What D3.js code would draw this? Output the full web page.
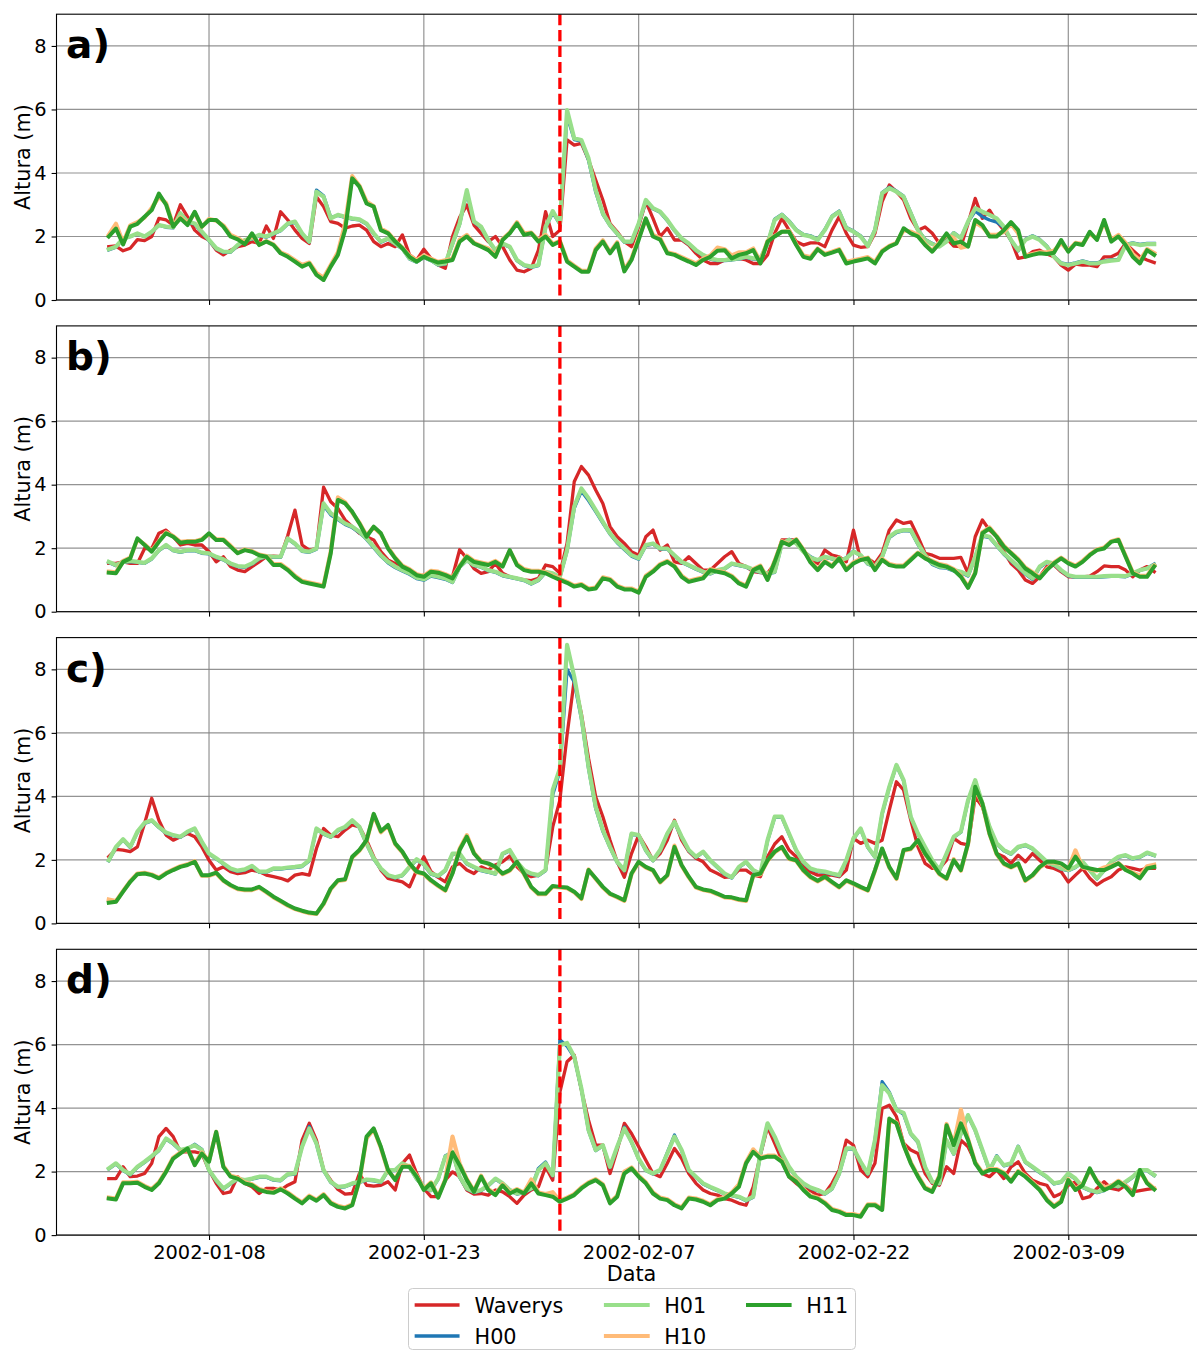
<!DOCTYPE html>
<html><head><meta charset="utf-8">
<script src="https://cdn.jsdelivr.net/npm/d3@7"></script>
<style>body{margin:0;background:#fff}svg{display:block}</style>
</head><body>
<svg id="chart" width="1197" height="1351"></svg>
<script>
// ---------------- data ----------------
const seriesNames = ["Waverys","H00","H01","H10","H11"];
const seriesColors = ["#d62728","#1f77b4","#98df8a","#ffbb78","#2ca02c"];
const seriesWidths = [3.3,3.3,4.2,4.2,4.0];
const panelLabels = ["a)","b)","c)","d)"];
const tickDates = ["2002-01-08","2002-01-23","2002-02-07","2002-02-22","2002-03-09"];
const yTicks = [0,2,4,6,8];
const startDate = "2002-01-01T00:00Z";   // 12-hourly samples
const endDate = "2002-03-15T00:00Z";
const eventDate = "2002-02-01T12:00Z";

const a_Waverys = [1.68,1.70,1.55,1.63,1.90,1.87,2.00,2.57,2.52,2.36,
3.00,2.62,2.20,2.00,1.89,1.57,1.42,1.57,1.68,1.73,
1.84,1.78,2.33,1.94,2.78,2.52,2.20,1.94,1.78,3.25,
2.94,2.47,2.41,2.26,2.33,2.36,2.20,1.84,1.68,1.78,
1.68,2.05,1.42,1.26,1.60,1.31,1.10,1.00,2.00,2.60,
2.99,2.36,2.10,1.84,2.00,1.68,1.26,0.94,0.89,1.00,
1.57,2.78,2.00,2.20,5.04,4.88,4.93,4.41,3.78,3.15,
2.41,2.15,1.84,1.68,2.31,3.10,2.57,2.00,2.26,1.89,
1.89,1.73,1.47,1.26,1.15,1.15,1.26,1.31,1.31,1.26,
1.15,1.15,1.42,2.10,2.57,2.20,1.84,1.73,1.80,1.80,
1.68,2.20,2.62,2.10,1.73,1.66,1.68,2.10,3.10,3.62,
3.41,3.15,2.57,2.20,2.30,2.10,1.78,1.94,1.70,1.68,
2.41,3.20,2.57,2.83,2.47,2.20,1.89,1.31,1.36,1.52,
1.57,1.45,1.36,1.10,0.94,1.13,1.10,1.10,1.05,1.36,
1.36,1.47,1.78,1.57,1.36,1.26,1.18];
const a_H00 = [1.58,1.66,1.92,2.00,2.08,2.00,2.13,2.36,2.29,2.27,
2.73,2.45,2.39,2.13,1.87,1.61,1.50,1.50,1.71,1.87,
1.92,2.03,1.98,2.08,2.18,2.39,2.45,2.08,1.82,3.46,
3.28,2.60,2.66,2.60,2.55,2.52,2.39,2.08,1.82,1.92,
1.76,1.61,1.29,1.19,1.34,1.24,1.10,1.13,1.76,2.39,
3.40,2.45,2.29,1.87,1.55,1.76,1.66,1.24,1.08,1.03,
1.08,2.28,2.75,2.39,5.80,5.05,5.00,4.40,3.40,2.70,
2.34,2.08,1.82,1.82,2.39,3.12,2.87,2.76,2.50,2.18,
1.92,1.76,1.55,1.40,1.29,1.24,1.24,1.26,1.29,1.34,
1.29,1.29,1.76,2.55,2.70,2.49,2.22,2.07,2.02,1.91,
2.22,2.64,2.80,2.28,2.17,2.02,1.72,2.22,3.38,3.55,
3.43,3.27,2.75,2.22,1.91,1.78,1.70,1.86,2.12,1.96,
2.45,2.80,2.62,2.52,2.45,2.29,1.87,1.55,1.91,2.02,
1.91,1.70,1.38,1.17,1.12,1.17,1.23,1.17,1.17,1.23,
1.26,1.28,1.75,1.80,1.75,1.78,1.78];
const a_H01 = [1.60,1.68,1.94,2.00,2.10,2.00,2.15,2.36,2.31,2.29,
2.73,2.47,2.41,2.15,1.89,1.63,1.52,1.52,1.73,1.89,
1.94,2.05,2.00,2.10,2.20,2.41,2.47,2.10,1.84,3.41,
3.25,2.57,2.68,2.62,2.57,2.54,2.41,2.10,1.84,1.94,
1.78,1.63,1.31,1.21,1.36,1.26,1.12,1.15,1.78,2.41,
3.46,2.47,2.31,1.89,1.57,1.78,1.68,1.26,1.10,1.05,
1.10,2.30,2.80,2.41,5.98,5.09,5.04,4.46,3.46,2.73,
2.36,2.10,1.84,1.84,2.41,3.15,2.89,2.78,2.52,2.20,
1.94,1.78,1.57,1.42,1.31,1.26,1.26,1.28,1.31,1.36,
1.31,1.31,1.78,2.52,2.68,2.47,2.20,2.05,2.00,1.89,
2.20,2.62,2.78,2.26,2.15,2.00,1.70,2.20,3.36,3.52,
3.41,3.25,2.73,2.20,1.89,1.76,1.68,1.84,2.10,1.94,
2.47,2.89,2.78,2.68,2.57,2.31,1.89,1.57,1.89,2.00,
1.89,1.68,1.36,1.15,1.10,1.15,1.21,1.15,1.15,1.21,
1.24,1.26,1.73,1.78,1.73,1.76,1.76];
const a_H10 = [2.05,2.40,1.80,2.35,2.45,2.60,2.90,3.25,3.05,2.35,
2.60,2.40,2.75,2.30,2.55,2.50,2.35,2.05,1.95,1.80,
2.05,1.75,1.85,1.75,1.50,1.40,1.25,1.10,1.18,0.85,
0.70,1.10,1.50,2.40,3.90,3.60,3.10,2.95,2.25,2.12,
1.86,1.65,1.40,1.25,1.40,1.30,1.20,1.25,1.30,1.90,
2.05,1.80,1.70,1.62,1.40,1.92,2.12,2.45,2.10,2.12,
1.88,2.05,1.76,1.86,1.25,1.08,0.92,0.92,1.62,1.88,
1.50,1.82,0.95,1.30,1.95,2.55,2.05,1.95,1.50,1.45,
1.35,1.25,1.15,1.30,1.40,1.65,1.60,1.40,1.50,1.50,
1.62,1.20,1.86,2.02,2.15,2.18,1.76,1.40,1.35,1.62,
1.45,1.52,1.60,1.20,1.25,1.30,1.35,1.20,1.55,1.70,
1.80,2.20,2.15,2.05,1.76,1.55,1.82,2.05,1.95,1.65,
1.70,2.45,2.30,2.05,2.05,2.15,2.40,2.10,1.40,1.45,
1.50,1.50,1.55,1.80,1.55,1.80,1.76,2.10,1.92,2.45,
1.90,2.05,1.80,1.45,1.25,1.60,1.48];
const a_H11 = [2.00,2.25,1.75,2.31,2.40,2.62,2.83,3.35,3.00,2.31,
2.57,2.36,2.78,2.31,2.52,2.52,2.31,2.00,1.91,1.76,
2.10,1.73,1.84,1.73,1.47,1.36,1.21,1.05,1.15,0.79,
0.63,1.05,1.42,2.20,3.83,3.57,3.04,2.94,2.20,2.10,
1.84,1.63,1.36,1.21,1.36,1.26,1.18,1.21,1.26,1.84,
2.00,1.78,1.68,1.57,1.36,1.89,2.10,2.41,2.05,2.10,
1.84,2.00,1.73,1.84,1.21,1.05,0.89,0.89,1.57,1.84,
1.47,1.78,0.90,1.26,1.89,2.57,2.00,1.90,1.47,1.42,
1.31,1.21,1.10,1.26,1.36,1.55,1.57,1.31,1.42,1.47,
1.57,1.15,1.84,2.00,2.15,2.15,1.73,1.36,1.30,1.60,
1.42,1.49,1.57,1.15,1.21,1.26,1.31,1.15,1.52,1.68,
1.78,2.26,2.10,2.00,1.73,1.52,1.78,2.10,1.78,1.84,
1.68,2.52,2.36,2.00,2.00,2.20,2.45,2.20,1.36,1.42,
1.47,1.45,1.49,1.89,1.52,1.78,1.73,2.15,1.89,2.52,
1.84,2.00,1.73,1.36,1.15,1.57,1.42];

const b_Waverys = [1.52,1.52,1.57,1.52,1.52,1.99,1.99,2.47,2.57,2.36,
2.10,2.15,2.10,2.10,1.89,1.57,1.73,1.42,1.31,1.26,
1.42,1.57,1.73,1.75,1.73,2.40,3.20,2.10,1.94,1.99,
3.92,3.46,3.25,2.89,2.68,2.47,2.36,2.26,1.89,1.63,
1.52,1.36,1.21,1.10,1.15,1.26,1.15,1.10,1.10,1.95,
1.68,1.36,1.21,1.26,1.52,1.21,1.10,1.05,1.00,0.98,
1.05,1.47,1.42,1.21,2.15,4.09,4.57,4.30,3.83,3.41,
2.68,2.36,2.15,1.89,1.78,2.36,2.57,1.94,2.10,1.57,
1.52,1.73,1.52,1.31,1.31,1.52,1.73,1.89,1.52,1.42,
1.26,1.23,1.21,1.52,2.26,2.26,2.26,1.94,1.65,1.52,
1.94,1.78,1.73,1.57,2.57,1.63,1.68,1.52,1.84,2.57,
2.89,2.78,2.83,2.36,1.84,1.78,1.68,1.68,1.68,1.71,
1.21,2.36,2.89,2.57,2.36,1.89,1.52,1.31,1.00,0.89,
1.10,1.42,1.47,1.26,1.10,1.10,1.10,1.12,1.26,1.44,
1.42,1.42,1.31,1.10,1.31,1.42,1.26];
const b_H00 = [1.55,1.45,1.55,1.58,1.55,1.52,1.66,1.92,2.08,1.92,
1.87,1.92,1.92,1.84,1.82,1.71,1.63,1.50,1.42,1.40,
1.50,1.66,1.73,1.71,1.71,2.29,2.13,1.90,1.87,1.97,
3.35,3.05,2.90,2.75,2.65,2.49,2.28,2.02,1.75,1.54,
1.39,1.28,1.18,1.04,0.99,1.12,1.07,1.02,0.92,1.40,
1.61,1.45,1.40,1.29,1.24,1.13,1.08,1.03,0.98,0.87,
0.98,1.24,1.19,1.08,1.92,3.25,3.80,3.50,3.15,2.79,
2.44,2.17,1.96,1.75,1.65,2.08,2.13,1.97,1.97,1.76,
1.55,1.45,1.34,1.24,1.19,1.29,1.34,1.50,1.45,1.40,
1.31,1.24,1.19,1.24,2.13,2.28,2.17,1.91,1.73,1.61,
1.71,1.66,1.58,1.70,1.91,1.76,1.50,1.40,1.71,2.33,
2.49,2.55,2.54,2.12,1.75,1.49,1.39,1.37,1.28,1.23,
1.12,1.70,2.38,2.33,2.07,1.81,1.60,1.39,1.18,1.02,
1.39,1.55,1.50,1.29,1.13,1.08,1.08,1.08,1.08,1.10,
1.11,1.11,1.10,1.19,1.30,1.36,1.50];
const b_H01 = [1.57,1.47,1.57,1.60,1.57,1.54,1.68,1.94,2.10,1.94,
1.89,1.94,1.94,1.86,1.84,1.73,1.65,1.52,1.44,1.42,
1.52,1.68,1.75,1.73,1.73,2.31,2.15,1.92,1.89,1.99,
3.41,3.10,2.94,2.78,2.68,2.52,2.31,2.05,1.78,1.57,
1.42,1.31,1.21,1.07,1.02,1.15,1.10,1.05,0.94,1.42,
1.63,1.47,1.42,1.31,1.26,1.15,1.10,1.05,1.00,0.89,
1.00,1.26,1.21,1.10,1.94,3.31,3.88,3.57,3.20,2.83,
2.47,2.20,1.99,1.78,1.68,2.10,2.15,1.99,1.99,1.78,
1.57,1.47,1.36,1.26,1.21,1.31,1.36,1.52,1.47,1.42,
1.33,1.26,1.21,1.26,2.15,2.26,2.15,1.89,1.70,1.63,
1.73,1.68,1.60,1.68,1.89,1.78,1.52,1.42,1.73,2.36,
2.52,2.57,2.57,2.15,1.78,1.52,1.42,1.40,1.31,1.26,
1.15,1.73,2.41,2.36,2.10,1.84,1.63,1.42,1.21,1.05,
1.42,1.57,1.52,1.31,1.15,1.10,1.10,1.10,1.10,1.12,
1.13,1.13,1.12,1.21,1.31,1.36,1.47];
const b_H10 = [1.26,1.24,1.60,1.70,2.28,2.12,1.92,2.22,2.50,2.38,
2.20,2.22,2.22,2.28,2.45,2.28,2.28,2.08,1.86,1.96,
1.91,1.80,1.75,1.50,1.50,1.34,1.13,0.97,0.92,0.87,
0.82,1.90,3.60,3.45,3.12,2.80,2.40,2.66,2.45,2.02,
1.70,1.45,1.34,1.18,1.13,1.29,1.26,1.18,1.08,1.45,
1.76,1.60,1.55,1.50,1.60,1.45,1.92,1.50,1.34,1.29,
1.29,1.24,1.13,1.03,0.94,0.82,0.87,0.73,0.76,1.08,
1.03,0.82,0.73,0.73,0.63,1.13,1.29,1.50,1.60,1.45,
1.13,0.97,1.03,1.08,1.34,1.29,1.24,1.13,0.92,0.82,
1.34,1.45,1.03,1.60,2.22,2.12,2.28,1.96,1.58,1.34,
1.60,1.45,1.70,1.34,1.55,1.66,1.70,1.34,1.66,1.50,
1.45,1.45,1.66,1.86,1.70,1.60,1.50,1.45,1.34,1.13,
0.78,1.24,2.50,2.65,2.38,2.08,1.86,1.66,1.39,1.24,
1.08,1.34,1.55,1.70,1.55,1.45,1.60,1.80,1.96,2.02,
2.22,2.28,1.76,1.24,1.13,1.13,1.45];
const b_H11 = [1.23,1.21,1.57,1.68,2.31,2.10,1.89,2.20,2.47,2.36,
2.17,2.20,2.20,2.26,2.47,2.26,2.26,2.05,1.84,1.94,
1.89,1.78,1.73,1.47,1.47,1.31,1.10,0.94,0.89,0.84,
0.79,1.84,3.52,3.41,3.15,2.78,2.36,2.68,2.47,1.99,
1.68,1.42,1.31,1.15,1.10,1.26,1.23,1.15,1.05,1.42,
1.73,1.57,1.52,1.47,1.57,1.42,1.94,1.47,1.31,1.26,
1.26,1.21,1.10,1.00,0.91,0.79,0.84,0.70,0.73,1.05,
1.00,0.79,0.70,0.70,0.60,1.10,1.26,1.47,1.57,1.42,
1.10,0.94,1.00,1.05,1.31,1.26,1.21,1.10,0.89,0.79,
1.31,1.42,1.00,1.57,2.20,2.10,2.26,1.94,1.55,1.31,
1.57,1.42,1.68,1.31,1.52,1.63,1.68,1.31,1.63,1.47,
1.42,1.42,1.63,1.84,1.68,1.57,1.47,1.42,1.31,1.10,
0.75,1.21,2.47,2.62,2.36,2.05,1.84,1.63,1.36,1.21,
1.05,1.31,1.52,1.68,1.52,1.42,1.57,1.78,1.94,1.99,
2.20,2.26,1.73,1.21,1.10,1.10,1.42];

const c_Waverys = [2.10,2.33,2.31,2.26,2.41,3.15,3.94,3.25,2.78,2.62,
2.73,2.83,2.73,2.41,1.99,1.68,1.78,1.63,1.57,1.60,
1.68,1.63,1.52,1.47,1.42,1.34,1.52,1.57,1.52,2.36,
2.99,2.78,2.73,2.94,3.10,3.04,2.62,2.10,1.68,1.42,
1.36,1.31,1.15,1.68,2.10,1.63,1.45,1.31,1.78,1.89,
1.68,1.57,1.78,1.68,1.84,1.94,2.12,1.78,1.57,1.47,
1.52,1.68,3.04,3.88,5.93,7.66,6.60,5.20,3.99,3.36,
2.62,1.94,1.45,2.20,2.78,2.41,1.99,2.20,2.62,3.25,
2.62,2.26,2.05,1.94,1.68,1.57,1.45,1.47,1.68,1.68,
1.52,1.47,2.10,2.50,2.73,2.31,2.10,1.78,1.62,1.52,
1.52,1.52,1.47,1.68,2.68,2.52,2.62,2.52,2.62,3.57,
4.46,4.20,3.25,2.41,1.89,1.73,1.73,1.99,2.68,2.52,
2.47,3.99,3.67,2.94,2.20,2.10,1.89,2.15,1.94,2.20,
1.99,1.78,1.73,1.63,1.30,1.52,1.73,1.42,1.21,1.36,
1.47,1.68,1.78,1.73,1.68,1.73,1.73];
const c_H00 = [1.97,2.39,2.63,2.39,2.87,3.15,3.23,3.02,2.84,2.76,
2.71,2.87,2.97,2.55,2.18,2.03,1.87,1.71,1.64,1.68,
1.79,1.61,1.61,1.71,1.71,1.74,1.76,1.79,1.97,2.97,
2.81,2.71,2.92,3.02,3.23,3.02,2.50,2.03,1.71,1.50,
1.43,1.50,1.76,2.00,1.85,1.55,1.48,1.66,2.18,2.18,
1.87,1.76,1.66,1.61,1.55,2.18,2.29,1.92,1.66,1.55,
1.50,1.66,4.05,4.80,8.00,7.60,6.45,4.88,3.62,2.90,
2.39,1.92,1.66,2.81,2.76,2.29,1.97,2.29,2.81,3.18,
2.71,2.29,2.08,2.24,1.97,1.76,1.55,1.43,1.76,1.92,
1.66,1.55,2.60,3.34,3.34,2.81,2.29,1.92,1.71,1.64,
1.61,1.55,1.50,1.97,2.66,2.97,2.39,2.08,3.44,4.28,
4.97,4.49,3.34,2.81,2.39,1.97,1.66,2.18,2.71,2.87,
3.86,4.49,3.76,3.02,2.50,2.29,2.18,2.39,2.45,2.34,
2.13,1.92,1.82,1.71,1.66,1.76,1.92,1.66,1.40,1.66,
1.92,2.08,2.13,2.03,2.08,2.21,2.13];
const c_H01 = [1.99,2.41,2.65,2.41,2.89,3.17,3.25,3.04,2.86,2.78,
2.73,2.89,2.99,2.57,2.20,2.05,1.89,1.73,1.66,1.70,
1.81,1.63,1.63,1.73,1.73,1.76,1.78,1.81,1.99,2.99,
2.83,2.73,2.94,3.04,3.25,3.04,2.52,2.05,1.73,1.52,
1.45,1.52,1.78,2.02,1.87,1.57,1.50,1.68,2.20,2.20,
1.89,1.78,1.68,1.63,1.57,2.20,2.31,1.94,1.68,1.57,
1.52,1.68,4.20,4.88,8.77,7.77,6.51,4.93,3.67,2.94,
2.41,1.94,1.68,2.83,2.78,2.31,1.99,2.31,2.83,3.20,
2.73,2.31,2.10,2.26,1.99,1.78,1.57,1.45,1.78,1.94,
1.68,1.57,2.62,3.36,3.36,2.83,2.31,1.94,1.73,1.66,
1.63,1.57,1.52,1.99,2.68,2.99,2.41,2.10,3.46,4.30,
4.99,4.51,3.36,2.83,2.41,1.99,1.68,2.20,2.73,2.89,
3.88,4.51,3.78,3.04,2.52,2.31,2.20,2.41,2.47,2.36,
2.15,1.94,1.84,1.73,1.68,1.78,1.94,1.68,1.42,1.68,
1.94,2.10,2.15,2.05,2.10,2.23,2.15];
const c_H10 = [0.75,0.70,1.02,1.33,1.57,1.59,1.54,1.44,1.59,1.70,
1.80,1.86,1.96,1.50,1.50,1.58,1.34,1.19,1.08,1.05,
1.05,1.13,0.98,0.82,0.69,0.56,0.45,0.38,0.32,0.30,
0.61,1.08,1.34,1.37,2.08,2.29,2.60,3.42,2.87,3.08,
2.50,2.24,1.87,1.61,1.55,1.34,1.18,1.03,1.60,2.35,
2.78,2.22,1.96,1.87,1.76,1.55,1.66,1.92,1.55,1.13,
0.92,0.92,1.16,1.13,1.11,0.98,0.77,1.70,1.40,1.13,
0.92,0.82,0.71,1.55,1.92,1.76,1.66,1.29,1.50,2.45,
1.82,1.45,1.13,1.05,1.01,0.92,0.82,0.80,0.74,0.71,
1.50,1.55,1.97,2.24,2.39,2.03,1.97,1.66,1.45,1.32,
1.45,1.29,1.13,1.34,1.24,1.13,1.03,1.66,2.34,1.76,
1.40,2.29,2.34,2.60,2.18,1.87,1.55,1.40,2.02,1.66,
2.50,4.25,3.76,2.81,2.18,1.87,1.76,1.87,1.34,1.50,
1.76,1.92,1.92,1.87,1.71,2.30,1.76,1.71,1.66,1.76,
1.82,1.90,1.70,1.60,1.50,1.80,1.85];
const c_H11 = [0.65,0.68,1.00,1.31,1.55,1.57,1.52,1.42,1.57,1.68,
1.78,1.84,1.94,1.52,1.52,1.60,1.36,1.21,1.10,1.07,
1.07,1.15,1.00,0.84,0.71,0.58,0.47,0.40,0.34,0.31,
0.63,1.10,1.36,1.39,2.10,2.31,2.62,3.45,2.90,3.10,
2.52,2.26,1.89,1.63,1.57,1.36,1.20,1.05,1.57,2.31,
2.73,2.20,1.94,1.89,1.78,1.57,1.68,1.94,1.57,1.15,
0.94,0.94,1.18,1.15,1.13,1.00,0.79,1.68,1.42,1.15,
0.94,0.84,0.73,1.57,1.94,1.78,1.68,1.31,1.52,2.41,
1.84,1.47,1.15,1.07,1.03,0.94,0.84,0.82,0.76,0.73,
1.52,1.57,1.99,2.26,2.41,2.05,1.99,1.68,1.47,1.34,
1.47,1.31,1.15,1.36,1.26,1.15,1.05,1.68,2.36,1.78,
1.42,2.31,2.36,2.62,2.20,1.89,1.57,1.42,1.99,1.68,
2.52,4.30,3.78,2.83,2.20,1.89,1.78,1.89,1.36,1.52,
1.78,1.94,1.94,1.89,1.73,2.10,1.78,1.73,1.68,1.68,
1.78,1.89,1.68,1.57,1.42,1.73,1.78];

const d_Waverys = [1.78,1.78,2.15,1.84,1.86,1.94,2.26,3.10,3.36,3.10,
2.62,2.62,2.62,2.57,2.05,1.63,1.31,1.36,1.84,1.63,
1.52,1.31,1.47,1.47,1.42,1.57,1.68,2.99,3.52,2.99,
2.05,1.73,1.44,1.29,1.31,1.94,1.57,1.54,1.57,1.68,
1.42,2.26,2.52,1.94,1.47,1.21,1.21,1.73,1.99,1.84,
1.42,1.29,1.31,1.26,1.42,1.36,1.21,1.00,1.26,1.42,
1.52,2.15,1.73,4.50,5.46,5.67,4.57,3.62,2.83,2.83,
1.94,2.68,3.52,3.20,2.78,2.36,1.94,1.84,2.26,2.73,
2.41,1.94,1.63,1.42,1.31,1.26,1.15,1.10,1.00,0.94,
1.52,2.52,3.41,2.89,2.36,1.84,1.63,1.47,1.40,1.26,
1.31,1.63,2.05,2.99,2.83,2.05,1.84,2.26,3.99,4.09,
3.73,2.89,2.68,2.57,1.94,1.63,1.57,2.15,1.94,2.99,
2.78,2.31,1.94,1.84,2.05,1.78,2.15,2.31,1.94,1.73,
1.63,1.57,1.21,1.31,1.57,1.68,1.15,1.21,1.47,1.68,
1.47,1.42,1.57,1.36,1.40,1.44,1.47];
const d_H00 = [2.08,2.24,2.03,1.90,2.13,2.29,2.47,2.66,3.02,2.87,
2.66,2.71,2.86,2.70,2.03,1.71,1.45,1.61,1.76,1.71,
1.76,1.82,1.82,1.73,1.71,1.90,1.92,2.80,3.42,2.87,
2.03,1.66,1.50,1.52,1.61,1.66,1.73,1.71,1.66,2.03,
2.03,2.24,2.13,1.76,1.50,1.40,1.76,2.50,2.60,1.82,
1.45,1.34,1.40,1.55,1.76,1.61,1.40,1.29,1.34,1.45,
2.10,2.30,1.87,6.15,5.95,5.60,4.60,3.29,2.66,2.81,
2.13,2.76,3.40,2.92,2.39,2.03,1.92,2.03,2.60,3.15,
2.66,2.03,1.82,1.61,1.50,1.40,1.29,1.24,1.19,1.08,
1.19,2.55,3.50,3.08,2.55,2.13,1.82,1.61,1.48,1.40,
1.29,1.45,1.92,2.71,2.71,2.29,1.92,2.97,4.83,4.50,
3.96,3.80,3.18,2.92,2.13,1.66,1.61,2.97,2.55,3.18,
3.76,3.29,2.66,2.03,2.50,2.18,2.24,2.80,2.29,2.13,
1.97,1.82,1.61,1.66,1.92,1.76,1.50,1.40,1.34,1.40,
1.55,1.52,1.66,1.82,2.03,2.03,1.87];
const d_H01 = [2.10,2.26,2.05,1.92,2.15,2.31,2.49,2.68,3.04,2.89,
2.68,2.73,2.83,2.68,2.05,1.73,1.47,1.63,1.78,1.73,
1.78,1.84,1.84,1.75,1.73,1.92,1.94,2.78,3.36,2.89,
2.05,1.68,1.52,1.54,1.63,1.68,1.75,1.73,1.68,2.05,
2.05,2.26,2.15,1.78,1.52,1.42,1.78,2.47,2.62,1.84,
1.47,1.36,1.42,1.57,1.78,1.63,1.42,1.31,1.36,1.47,
2.05,2.26,1.89,5.98,6.05,5.62,4.62,3.31,2.68,2.83,
2.15,2.78,3.36,2.94,2.41,2.05,1.94,2.05,2.57,3.10,
2.68,2.05,1.84,1.63,1.52,1.42,1.31,1.26,1.21,1.10,
1.21,2.57,3.52,3.10,2.57,2.15,1.84,1.63,1.50,1.42,
1.31,1.47,1.94,2.73,2.73,2.31,1.94,2.99,4.72,4.46,
3.94,3.85,3.20,2.94,2.15,1.68,1.63,2.99,2.57,3.20,
3.78,3.31,2.68,2.05,2.47,2.20,2.26,2.78,2.31,2.15,
1.99,1.84,1.63,1.68,1.94,1.78,1.52,1.42,1.36,1.42,
1.57,1.54,1.68,1.84,2.05,2.05,1.89];
const d_H10 = [1.18,1.15,1.66,1.66,1.68,1.55,1.45,1.66,2.02,2.44,
2.60,2.70,2.25,2.60,2.34,3.25,2.18,1.87,1.81,1.66,
1.60,1.45,1.39,1.36,1.47,1.34,1.18,1.03,1.24,1.11,
1.29,1.03,0.92,0.87,0.97,1.70,3.05,3.33,2.75,2.02,
1.76,2.18,2.18,1.87,1.45,1.66,1.21,1.76,3.10,2.25,
1.76,1.39,1.87,1.45,1.29,1.60,1.34,1.45,1.34,1.75,
1.34,1.29,1.35,1.08,1.18,1.29,1.50,1.66,1.76,1.60,
1.03,1.24,2.00,2.13,1.87,1.66,1.34,1.18,1.13,0.97,
0.87,1.18,1.15,1.08,0.97,1.13,1.18,1.34,1.60,2.29,
2.70,2.44,2.50,2.50,2.34,1.87,1.71,1.45,1.24,1.18,
1.03,0.82,0.76,0.66,0.66,0.61,0.97,0.97,0.82,3.60,
3.55,2.86,2.29,1.87,1.50,1.39,1.87,3.50,2.86,3.95,
3.02,2.29,1.97,2.08,2.08,1.97,1.71,2.02,1.87,1.66,
1.45,1.13,0.92,1.08,1.76,1.45,1.60,2.05,1.71,1.50,
1.55,1.71,1.55,1.29,2.00,1.66,1.47];
const d_H11 = [1.15,1.12,1.63,1.63,1.65,1.52,1.42,1.63,1.99,2.41,
2.57,2.73,2.20,2.57,2.31,3.25,2.15,1.84,1.78,1.63,
1.57,1.42,1.36,1.33,1.44,1.31,1.15,1.00,1.21,1.08,
1.26,1.00,0.89,0.84,0.94,1.73,3.10,3.36,2.78,2.05,
1.73,2.15,2.15,1.84,1.42,1.63,1.18,1.73,2.60,2.20,
1.73,1.36,1.84,1.42,1.26,1.57,1.31,1.42,1.31,1.63,
1.31,1.26,1.21,1.05,1.15,1.26,1.47,1.63,1.73,1.57,
1.00,1.21,1.94,2.10,1.84,1.63,1.31,1.15,1.10,0.94,
0.84,1.15,1.12,1.05,0.94,1.10,1.15,1.31,1.52,2.26,
2.62,2.41,2.47,2.47,2.31,1.84,1.68,1.42,1.21,1.15,
1.00,0.79,0.73,0.63,0.63,0.58,0.94,0.94,0.79,3.67,
3.52,2.83,2.26,1.84,1.47,1.36,1.84,3.46,2.83,3.52,
2.99,2.26,1.94,2.05,2.05,1.94,1.68,1.99,1.84,1.63,
1.42,1.10,0.89,1.05,1.73,1.42,1.57,2.10,1.68,1.42,
1.52,1.68,1.52,1.26,2.05,1.63,1.44];

// ---------------- layout ----------------
const W = 1197, H = 1351;
const svg = d3.select("#chart");
const font = "'DejaVu Sans', 'Liberation Sans', sans-serif";
const t0 = new Date(startDate).getTime(), t1 = new Date(endDate).getTime();
const n = a_Waverys.length;
const times = d3.range(n).map(i => new Date(t0 + i * 12 * 3600e3));
const margin = (t1 - t0) * 0.05;
const x = d3.scaleUtc().domain([new Date(t0 - margin), new Date(t1 + margin)]).range([56.5, 1206.5]);
const [xL, xR] = x.range();
const tickDateObjs = tickDates.map(s => new Date(s + "T00:00Z"));
const eventTime = new Date(eventDate);

const panels = [
  [a_Waverys, a_H00, a_H01, a_H10, a_H11],
  [b_Waverys, b_H00, b_H01, b_H10, b_H11],
  [c_Waverys, c_H00, c_H01, c_H10, c_H11],
  [d_Waverys, d_H00, d_H01, d_H10, d_H11]
];

const panelTop0 = 14.2, panelStep = 311.7, panelH = 285.8;
const defs = svg.append("defs");

panels.forEach((series, k) => {
  const top = panelTop0 + k * panelStep, bottom = top + panelH;
  const y = d3.scaleLinear().domain([0, 9]).range([bottom, top]);
  const g = svg.append("g");

  defs.append("clipPath").attr("id", "clip" + k).append("rect")
    .attr("x", xL).attr("y", top).attr("width", xR - xL).attr("height", panelH);

  // grid
  const grid = g.append("g");
  grid.selectAll("line.h").data(yTicks).join("line")
    .attr("x1", xL).attr("x2", xR).attr("y1", d => y(d)).attr("y2", d => y(d))
    .attr("stroke", "#808080").attr("stroke-width", 1.2).attr("stroke-opacity", 0.85);
  grid.selectAll("line.v").data(tickDateObjs).join("line")
    .attr("x1", d => x(d)).attr("x2", d => x(d)).attr("y1", top).attr("y2", bottom)
    .attr("stroke", "#808080").attr("stroke-width", 1.2).attr("stroke-opacity", 0.85);

  // series
  const lg = g.append("g").attr("clip-path", `url(#clip${k})`);
  const line = d3.line().x((d, i) => x(times[i])).y(d => y(d));
  series.forEach((vals, j) => {
    lg.append("path").datum(vals).attr("d", line)
      .attr("fill", "none").attr("stroke", seriesColors[j])
      .attr("stroke-width", seriesWidths[j])
      .attr("stroke-linejoin", "round").attr("stroke-linecap", "square");
  });
  // event line
  lg.append("line").attr("x1", x(eventTime)).attr("x2", x(eventTime))
    .attr("y1", top).attr("y2", bottom)
    .attr("stroke", "#ff0000").attr("stroke-width", 3.3)
    .attr("stroke-dasharray", "11.1,4.8");

  // spines
  g.append("rect").attr("x", xL).attr("y", top).attr("width", xR - xL).attr("height", panelH)
    .attr("fill", "none").attr("stroke", "#000").attr("stroke-width", 1.1);

  // axes
  const yAxis = d3.axisLeft(y).tickValues(yTicks).tickSize(4.9).tickPadding(4.9).tickFormat(d3.format("d"));
  const ya = g.append("g").attr("transform", `translate(${xL},0)`).call(yAxis);
  const xAxis = d3.axisBottom(x).tickValues(tickDateObjs).tickSize(4.9).tickPadding(4.9)
    .tickFormat(k === panels.length - 1 ? d3.utcFormat("%Y-%m-%d") : () => "");
  const xa = g.append("g").attr("transform", `translate(0,${bottom})`).call(xAxis);
  [ya, xa].forEach(a => {
    a.select(".domain").remove();
    a.selectAll(".tick line").attr("stroke", "#000").attr("stroke-width", 1.1);
    a.selectAll(".tick text").attr("fill", "#000").style("font-family", font).style("font-size", "19.4px");
  });

  // panel label
  g.append("text").text(panelLabels[k]).attr("x", 66).attr("y", top + 44)
    .style("font-family", font).style("font-size", "39px").style("font-weight", "bold");
  // y label
  g.append("text").text("Altura (m)")
    .attr("transform", `translate(30,${(top + bottom) / 2}) rotate(-90)`)
    .attr("text-anchor", "middle").style("font-family", font).style("font-size", "20.8px");
});

// x label
svg.append("text").text("Data").attr("x", (xL + xR) / 2).attr("y", 1281)
  .attr("text-anchor", "middle").style("font-family", font).style("font-size", "20.8px");

// legend
const leg = svg.append("g");
leg.append("rect").attr("x", 408.5).attr("y", 1288.5).attr("width", 447).attr("height", 61).attr("rx", 4)
  .attr("fill", "#fff").attr("fill-opacity", 0.8).attr("stroke", "#cccccc").attr("stroke-width", 1);
const colX = [416.3, 606, 748];
const rowY = [1305, 1336];
seriesNames.forEach((name, j) => {
  const c = Math.floor(j / 2), r = j % 2;
  leg.append("line").attr("x1", colX[c]).attr("x2", colX[c] + 41.6)
    .attr("y1", rowY[r]).attr("y2", rowY[r])
    .attr("stroke", seriesColors[j]).attr("stroke-width", seriesWidths[j]).attr("stroke-linecap", "square");
  leg.append("text").text(name).attr("x", colX[c] + 58.2).attr("y", rowY[r] + 7.5)
    .style("font-family", font).style("font-size", "20.8px");
});
</script>
</body></html>
